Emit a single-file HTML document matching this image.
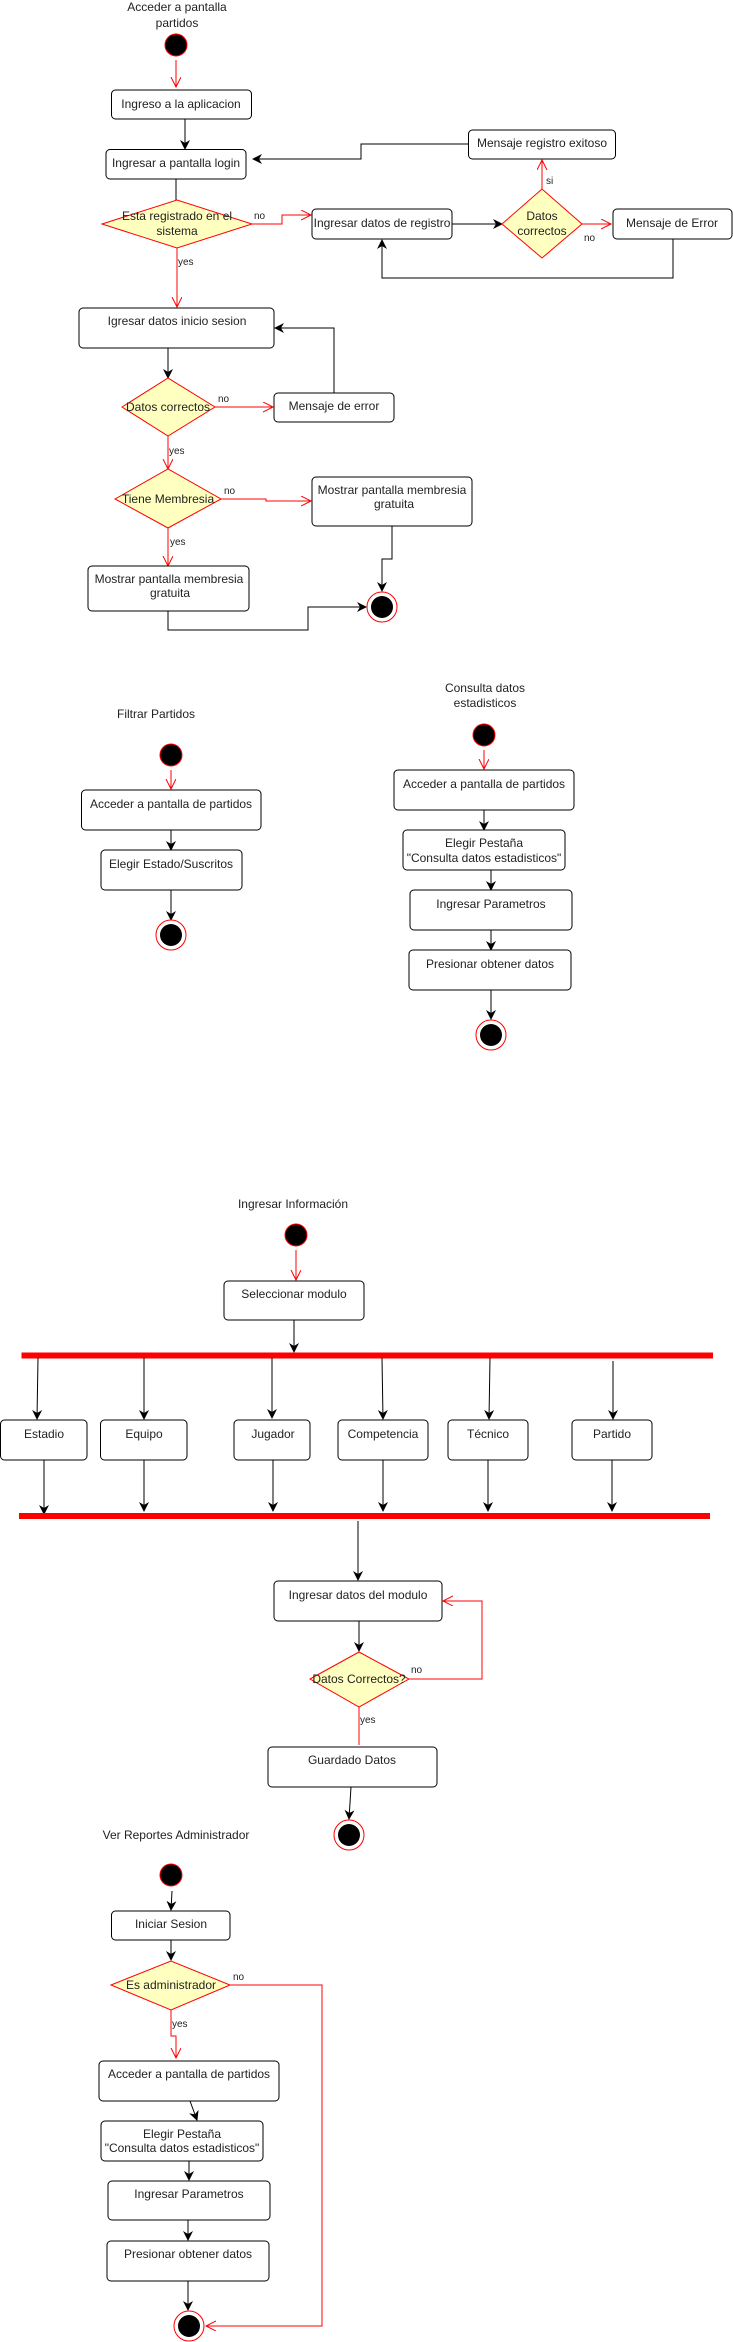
<!DOCTYPE html>
<html><head><meta charset="utf-8"><style>
html,body{margin:0;padding:0;background:#fff;}
svg{display:block;}
text{font-family:"Liberation Sans",Arial,sans-serif;font-size:12px;fill:#222;}
.s{font-size:10px;}
.b{fill:#fff;stroke:#000;stroke-width:1;}
.d{fill:#ffffc0;stroke:#ff0000;stroke-width:1;}
.k{fill:none;stroke:#000;stroke-width:1;marker-end:url(#ab);}
.kn{fill:none;stroke:#000;stroke-width:1;}
.r{fill:none;stroke:#ff0000;stroke-width:1;marker-end:url(#ar);}
.rn{fill:none;stroke:#ff0000;stroke-width:1;}
.st{fill:#000;stroke:#ff0000;stroke-width:1;}
.eo{fill:#fff;stroke:#ff0000;stroke-width:1;}
</style></head><body>
<svg width="733" height="2342" viewBox="0 0 733 2342" xmlns="http://www.w3.org/2000/svg">
<defs>
<marker id="ab" markerUnits="userSpaceOnUse" markerWidth="10" markerHeight="10" refX="9" refY="5" orient="auto"><path d="M0,0 L10,5 L0,10 L3,5 z" fill="#000"/></marker>
<marker id="ar" markerUnits="userSpaceOnUse" markerWidth="12" markerHeight="12" refX="10" refY="5" orient="auto"><path d="M0,0 L10,5 L0,10" fill="none" stroke="#ff0000" stroke-width="1"/></marker>
</defs>

<!-- Section 1 -->
<text x="177" y="11" text-anchor="middle">Acceder a pantalla</text>
<text x="177" y="27" text-anchor="middle">partidos</text>
<circle class="st" cx="176" cy="45" r="11"/>
<path class="r" d="M176,60 L176,87"/>
<rect class="b" x="111.5" y="90" width="140" height="29" rx="4"/>
<text x="181" y="108" text-anchor="middle">Ingreso a la aplicacion</text>
<path class="k" d="M185,119 L185,149"/>
<rect class="b" x="106" y="149.5" width="140" height="29.5" rx="4"/>
<text x="176" y="167" text-anchor="middle">Ingresar a pantalla login</text>
<path class="kn" d="M176,179 L176,200" stroke="#666"/>
<polygon class="d" points="102,224 177,200 252,224 177,248"/>
<text x="177" y="220" text-anchor="middle">Esta registrado en el</text>
<text x="177" y="235" text-anchor="middle">sistema</text>
<text class="s" x="254" y="219">no</text>
<path class="r" d="M252,224 L282,224 L282,215 L311,215"/>
<rect class="b" x="312" y="209" width="140" height="30" rx="4"/>
<text x="382" y="227" text-anchor="middle">Ingresar datos de registro</text>
<path class="k" d="M452,224 L502,224"/>
<polygon class="d" points="502,224 542,189 582,224 542,258"/>
<text x="542" y="220" text-anchor="middle">Datos</text>
<text x="542" y="235" text-anchor="middle">correctos</text>
<path class="r" d="M542,189 L542,160"/>
<text class="s" x="546" y="184">si</text>
<rect class="b" x="468.5" y="130" width="147" height="29" rx="4"/>
<text x="542" y="147" text-anchor="middle">Mensaje registro exitoso</text>
<path class="k" d="M468,144 L361,144 L361,159 L253,159"/>
<path class="r" d="M582,224 L611,224"/>
<text class="s" x="584" y="241">no</text>
<rect class="b" x="613" y="209" width="119" height="30" rx="4"/>
<text x="672" y="227" text-anchor="middle">Mensaje de Error</text>
<path class="k" d="M673,239 L673,278 L382,278 L382,240"/>
<path class="r" d="M177,248 L177,307"/>
<text class="s" x="178" y="265">yes</text>
<rect class="b" x="79" y="308" width="195" height="40" rx="4"/>
<text x="177" y="325" text-anchor="middle">Igresar datos inicio sesion</text>
<path class="k" d="M168,348 L168,378" stroke="#444"/>
<polygon class="d" points="122,407 168,378 215,407 168,436"/>
<text x="168" y="411" text-anchor="middle">Datos correctos</text>
<text class="s" x="218" y="402">no</text>
<path class="r" d="M215,407 L273,407"/>
<rect class="b" x="274" y="393" width="120" height="29" rx="4"/>
<text x="334" y="410" text-anchor="middle">Mensaje de error</text>
<path class="k" d="M334,393 L334,328 L275,328"/>
<path class="r" d="M168,436 L168,469"/>
<text class="s" x="169" y="454">yes</text>
<polygon class="d" points="115,499 168,469 221,499 168,528"/>
<text x="168" y="503" text-anchor="middle">Tiene Membresia</text>
<text class="s" x="224" y="494">no</text>
<path class="r" d="M221,499 L266,499 L266,501 L311,501"/>
<rect class="b" x="312" y="477" width="160" height="49" rx="4"/>
<text x="392" y="494" text-anchor="middle">Mostrar pantalla membresia</text>
<text x="394" y="508" text-anchor="middle">gratuita</text>
<path class="k" d="M392,526 L392,559 L382,559 L382,591"/>
<circle class="eo" cx="382" cy="607" r="15"/>
<circle cx="382" cy="607" r="11" fill="#000"/>
<path class="r" d="M168,528 L168,566"/>
<text class="s" x="170" y="545">yes</text>
<rect class="b" x="88" y="566" width="161" height="45" rx="4"/>
<text x="169" y="583" text-anchor="middle">Mostrar pantalla membresia</text>
<text x="170" y="597" text-anchor="middle">gratuita</text>
<path class="k" d="M168,611 L168,630 L308,630 L308,607 L366,607"/>

<!-- Filtrar Partidos -->
<text x="156" y="718" text-anchor="middle">Filtrar Partidos</text>
<circle class="st" cx="171" cy="755" r="11"/>
<path class="r" d="M171,770 L171,789"/>
<rect class="b" x="81.5" y="790" width="179.5" height="40" rx="4"/>
<text x="171" y="808" text-anchor="middle">Acceder a pantalla de partidos</text>
<path class="k" d="M171,830 L171,850"/>
<rect class="b" x="101" y="850" width="141" height="40" rx="4"/>
<text x="171" y="868" text-anchor="middle">Elegir Estado/Suscritos</text>
<path class="k" d="M171,890 L171,920"/>
<circle class="eo" cx="171" cy="935" r="15"/>
<circle cx="171" cy="935" r="11" fill="#000"/>

<!-- Consulta datos estadisticos -->
<text x="485" y="692" text-anchor="middle">Consulta datos</text>
<text x="485" y="707" text-anchor="middle">estadisticos</text>
<circle class="st" cx="484" cy="735" r="11"/>
<path class="r" d="M484,750 L484,769"/>
<rect class="b" x="394" y="770" width="180" height="40" rx="4"/>
<text x="484" y="788" text-anchor="middle">Acceder a pantalla de partidos</text>
<path class="k" d="M484,810 L484,830"/>
<rect class="b" x="403" y="830" width="162" height="40" rx="4"/>
<text x="484" y="847" text-anchor="middle">Elegir Pestaña</text>
<text x="484" y="862" text-anchor="middle">"Consulta datos estadisticos"</text>
<path class="k" d="M491,870 L491,890"/>
<rect class="b" x="410" y="890" width="162" height="40" rx="4"/>
<text x="491" y="908" text-anchor="middle">Ingresar Parametros</text>
<path class="k" d="M491,930 L491,950"/>
<rect class="b" x="409" y="950" width="162" height="40" rx="4"/>
<text x="490" y="968" text-anchor="middle">Presionar obtener datos</text>
<path class="k" d="M491,990 L491,1019"/>
<circle class="eo" cx="491" cy="1035" r="15"/>
<circle cx="491" cy="1035" r="11" fill="#000"/>

<!-- Ingresar Información -->
<text x="293" y="1208" text-anchor="middle">Ingresar Información</text>
<circle class="st" cx="296" cy="1235" r="11"/>
<path class="r" d="M296,1250 L296,1280"/>
<rect class="b" x="224" y="1281" width="140" height="39" rx="4"/>
<text x="294" y="1298" text-anchor="middle">Seleccionar modulo</text>
<path class="k" d="M294,1320 L294,1352"/>
<rect x="21.5" y="1352.5" width="691.5" height="6" fill="#ff0000"/>
<path class="k" d="M38,1358 L37,1419"/>
<path class="k" d="M144,1358 L144,1419"/>
<path class="k" d="M272,1358 L272,1418"/>
<path class="k" d="M382,1358 L383,1419"/>
<path class="k" d="M490,1358 L489,1419"/>
<path class="k" d="M613,1361 L613,1419"/>
<rect class="b" x="0.5" y="1420" width="86.5" height="40" rx="4"/>
<text x="44" y="1438" text-anchor="middle">Estadio</text>
<rect class="b" x="100.5" y="1420" width="86.5" height="40" rx="4"/>
<text x="144" y="1438" text-anchor="middle">Equipo</text>
<rect class="b" x="234" y="1420" width="76" height="40" rx="4"/>
<text x="273" y="1438" text-anchor="middle">Jugador</text>
<rect class="b" x="338" y="1420" width="90" height="40" rx="4"/>
<text x="383" y="1438" text-anchor="middle">Competencia</text>
<rect class="b" x="448" y="1420" width="80" height="40" rx="4"/>
<text x="488" y="1438" text-anchor="middle">Técnico</text>
<rect class="b" x="572" y="1420" width="80" height="40" rx="4"/>
<text x="612" y="1438" text-anchor="middle">Partido</text>
<path class="k" d="M44,1460 L44,1514"/>
<path class="k" d="M144,1460 L144,1511"/>
<path class="k" d="M273,1460 L273,1511"/>
<path class="k" d="M383,1460 L383,1511"/>
<path class="k" d="M488,1460 L488,1511"/>
<path class="k" d="M612,1460 L612,1511"/>
<rect x="19" y="1513" width="691" height="6" fill="#ff0000"/>
<path class="k" d="M358,1521 L358,1580"/>
<rect class="b" x="274" y="1581" width="168" height="40" rx="4"/>
<text x="358" y="1599" text-anchor="middle">Ingresar datos del modulo</text>
<path class="k" d="M359,1621 L359,1651"/>
<polygon class="d" points="310,1679 359,1652 409,1679 359,1707"/>
<text x="359" y="1683" text-anchor="middle">Datos Correctos?</text>
<text class="s" x="411" y="1673">no</text>
<path class="r" d="M409,1679 L482,1679 L482,1601 L443,1601"/>
<path class="rn" d="M359,1707 L359,1745"/>
<text class="s" x="360" y="1723">yes</text>
<rect class="b" x="268" y="1747" width="169" height="40" rx="4"/>
<text x="352" y="1764" text-anchor="middle">Guardado Datos</text>
<path class="k" d="M351,1787 L349,1819"/>
<circle class="eo" cx="349" cy="1835" r="15"/>
<circle cx="349" cy="1835" r="11" fill="#000"/>

<!-- Ver Reportes Administrador -->
<text x="176" y="1839" text-anchor="middle">Ver Reportes Administrador</text>
<circle class="st" cx="171" cy="1875" r="11"/>
<path class="k" d="M172,1891 L171,1910"/>
<rect class="b" x="111.5" y="1911" width="118.5" height="29" rx="4"/>
<text x="171" y="1928" text-anchor="middle">Iniciar Sesion</text>
<path class="k" d="M171,1940 L171,1960"/>
<polygon class="d" points="111,1985 171,1961 230,1985 171,2010"/>
<text x="171" y="1989" text-anchor="middle">Es administrador</text>
<text class="s" x="233" y="1980">no</text>
<path class="r" d="M230,1985 L322,1985 L322,2326 L206,2326"/>
<path class="r" d="M171,2010 L171,2036 L176,2036 L176,2058"/>
<text class="s" x="172" y="2027">yes</text>
<rect class="b" x="99" y="2061" width="180" height="40" rx="4"/>
<text x="189" y="2078" text-anchor="middle">Acceder a pantalla de partidos</text>
<path class="k" d="M190,2101 L197,2120"/>
<rect class="b" x="101" y="2121" width="162" height="40" rx="4"/>
<text x="182" y="2138" text-anchor="middle">Elegir Pestaña</text>
<text x="182" y="2152" text-anchor="middle">"Consulta datos estadisticos"</text>
<path class="k" d="M189,2161 L189,2180"/>
<rect class="b" x="108" y="2181" width="162" height="39" rx="4"/>
<text x="189" y="2198" text-anchor="middle">Ingresar Parametros</text>
<path class="k" d="M188,2220 L188,2240"/>
<rect class="b" x="107" y="2241" width="162" height="40" rx="4"/>
<text x="188" y="2258" text-anchor="middle">Presionar obtener datos</text>
<path class="k" d="M188,2281 L188,2310"/>
<circle class="eo" cx="189" cy="2326" r="15"/>
<circle cx="189" cy="2326" r="11" fill="#000"/>
</svg>
</body></html>
